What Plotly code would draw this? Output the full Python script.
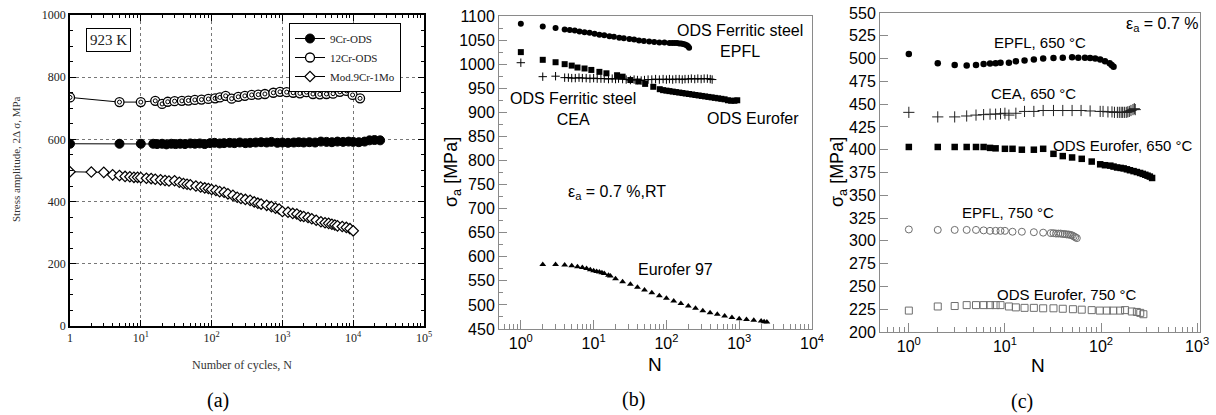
import plotly.graph_objects as go

W, H = 1216, 415

# ---------------- Panel (a) data ----------------
a9cr_N = [1, 5, 10, 15, 17, 20, 23, 27, 31, 36, 42, 50, 58, 68, 80, 95, 110, 130, 150, 180, 210,
          250, 300, 350, 420, 500, 600, 700, 850, 1000, 1200, 1450, 1700, 2000, 2400, 2900, 3500,
          4200, 5000, 6000, 7200, 8600, 10000, 12000, 14500, 17000, 20000, 24000]
a9cr_S = [586, 586, 586, 586, 585, 586, 584, 586, 585, 586, 585, 587, 586, 587, 585, 588, 589, 587,
          588, 589, 588, 590, 588, 589, 590, 591, 590, 592, 589, 590, 589, 590, 591, 590, 591, 590,
          593, 592, 591, 593, 592, 593, 592, 591, 593, 597, 598, 597]

a12cr_N = [1, 5, 10, 16, 20, 24, 30, 38, 47, 58, 72, 90, 112, 131, 158, 192, 238, 295, 368, 456,
           566, 745, 925, 1150, 1420, 1770, 2190, 2700, 3380, 4190, 5200, 6480, 8030, 9800, 12500]
a12cr_S = [735, 720, 720, 724, 714, 721, 723, 724, 725, 727, 728, 730, 732, 735, 740, 731, 737, 740,
           743, 744, 746, 750, 753, 752, 750, 748, 752, 746, 745, 746, 747, 753, 756, 743, 732]

amod_N = [1, 2, 3, 4, 5, 6, 7, 8, 9, 10, 12, 14, 16, 19, 22, 25, 30, 35, 40, 45, 50, 60, 70, 80, 90,
          100, 115, 130, 150, 170, 200, 230, 260, 300, 350, 400, 450, 500, 600, 700, 800, 900, 1000,
          1200, 1400, 1600, 1800, 2000, 2300, 2600, 3000, 3500, 4000, 4500, 5000, 5500, 6000, 7000,
          8000, 9000, 10000]
amod_S = [496, 495, 494, 486, 484, 481, 480, 478, 478, 477, 475, 474, 472, 470, 468, 466, 467, 462,
          458, 456, 454, 450, 447, 444, 442, 439, 436, 432, 430, 425, 420, 414, 410, 407, 404, 399,
          395, 392, 388, 384, 379, 376, 368, 366, 362, 360, 354, 352, 349, 345, 340, 335, 332, 330,
          327, 325, 322, 320, 317, 313, 306]

# ---------------- Panel (b) data ----------------
b_epfl_N = [1, 2, 3, 4, 4.7, 5.5, 6.4, 7.5, 8.8, 10.3, 12, 14, 16.5, 19, 22.5, 26, 31, 36, 42, 49,
            58, 68, 80, 94, 110, 120, 130, 140, 150, 160, 170, 180, 190, 198, 205]
b_epfl_S = [1084, 1078, 1075, 1072, 1071, 1070, 1068, 1066, 1065, 1063, 1061, 1060, 1058, 1057,
            1055, 1054, 1052, 1051, 1049, 1048, 1047, 1046, 1045, 1045, 1044, 1044, 1044, 1044,
            1043, 1043, 1042, 1041, 1039, 1037, 1034]

b_odse_N = [1, 2, 3, 4, 5, 6, 7.5, 9.3, 12, 15, 21, 25, 32, 41, 51, 66, 81, 90, 100, 110, 122, 135,
            150, 166, 184, 204, 226, 250, 277, 307, 340, 377, 418, 463, 513, 568, 630, 700, 775,
            860, 940]
b_odse_S = [1025, 1009, 1004, 1000, 997, 993, 991, 988, 984, 981, 977, 974, 967, 964, 959, 953,
            948, 946, 945, 944, 943, 942, 941, 940, 939, 938, 937, 936, 935, 934, 933, 932, 931,
            930, 929, 928, 927, 925, 924, 924, 925]

b_cea_N = [1, 2, 3, 4, 4.5, 5, 5.6, 6.3, 7, 7.9, 8.9, 10, 11.2, 12.6, 14, 16, 18, 20, 22, 25, 28,
           32, 36, 40, 45, 50, 56, 63, 71, 80, 90, 100, 110, 122, 135, 150, 165, 180, 200, 220,
           245, 270, 300, 330, 365, 400, 425]
b_cea_S = [1003, 974, 975, 972, 972, 971, 971, 972, 971, 971, 970, 971, 970, 970, 970, 969, 970,
           969, 970, 969, 968, 967, 968, 967, 966, 967, 968, 968, 969, 968, 969, 968, 969, 968,
           969, 969, 968, 969, 969, 970, 969, 970, 969, 970, 970, 969, 968]

b_e97_N = [2, 3, 4, 5, 6, 7, 8, 9, 10, 11, 12, 13, 14, 16, 17, 20, 25, 32, 40, 50, 63, 80, 100, 126,
           158, 200, 251, 316, 398, 500, 631, 794, 1000, 1259, 1585, 2000, 2200, 2400]
b_e97_S = [584, 584, 583, 581.5, 579.5, 577.5, 575.5, 573, 571, 569.5, 568.5, 567, 565.5, 561.5,
           560, 554.5, 548, 543, 536.5, 531, 525.5, 519, 514, 508, 503, 498, 493, 488, 484, 480.5,
           477, 474, 471.5, 469.5, 468, 466.5, 465, 464.5]

# ---------------- Panel (c) data ----------------
c_epfl650_N = [1, 2, 3, 4, 5, 6, 7, 8, 9, 11, 13, 16, 20, 25, 32, 40, 50, 58, 68, 77, 87, 98, 110,
               123, 129, 135]
c_epfl650_S = [505, 495, 493, 492.5, 493, 494, 494.5, 495, 495.5, 495.5, 497, 498, 499, 500, 500.5,
               501, 501.5, 501, 501, 500.5, 500, 499, 497, 495, 493, 491]

c_cea650_N = [1, 2, 3, 4, 5, 6, 7, 8, 9, 10, 11, 13, 16, 20, 25, 32, 40, 50, 62, 77, 98, 105, 118,
              130, 138, 148, 155, 162, 168, 175, 183, 190, 197, 205, 215, 222, 227]
c_cea650_S = [441, 436, 436, 437, 438, 438.5, 439, 439, 439.5, 440, 438, 440, 442, 442, 443, 443,
              443, 443, 443, 442.5, 442, 442, 441.5, 441.5, 441, 441, 441, 441, 441, 441, 441,
              441.5, 442, 443, 444, 445, 444]

c_odse650_N = [1, 2, 3, 4, 5, 6, 7, 8, 10, 12, 15, 20, 25, 32, 40, 50, 63, 80, 98, 110, 125, 135,
               147, 160, 172, 186, 200, 218, 236, 255, 272, 289, 305, 322, 340]
c_odse650_S = [403, 403, 403, 403, 403, 403, 402, 401.5, 401, 401, 400, 400, 401, 395.5, 393,
               391.5, 390, 387, 384, 383, 382.5, 381.5, 380.5, 380, 379.5, 378.5, 377.5, 376.5,
               375.5, 374.5, 373.5, 372.5, 371.5, 370.5, 369]

c_epfl750_N = [1, 2, 3, 4, 5, 6, 7, 8, 9, 10, 12, 15, 20, 25, 30, 32, 34, 36, 38, 40, 42, 44, 46,
               48, 50, 52, 54, 56]
c_epfl750_S = [312.5, 312, 312, 312, 312, 311.5, 311, 311, 311, 311, 310, 310, 309.5, 309, 308.5,
               308.5, 308, 308, 308, 307.5, 307.5, 307, 307, 306.5, 306, 305, 304, 303]

c_odse750_N = [1, 2, 3, 4, 5, 6, 7, 8, 9, 11, 13, 16, 20, 25, 32, 40, 51, 63, 80, 97, 115, 134,
               158, 178, 209, 236, 256, 276]
c_odse750_S = [223.5, 228, 228.5, 229.5, 229.5, 229.5, 229.5, 229.5, 229.5, 228, 227, 226.5, 226.5,
               226, 226, 225.5, 225, 224.5, 224, 223.5, 223.5, 223.5, 223.5, 224, 222.5, 222, 221,
               219.5]

# tick labels
a_xticks = [1, 10, 100, 1000, 10000, 100000]
a_xtext = ["1", "10<sup>1</sup>", "10<sup>2</sup>", "10<sup>3</sup>", "10<sup>4</sup>", "10<sup>5</sup>"]
b_xticks = [1, 10, 100, 1000, 10000]
b_xtext = ["10<sup>0</sup>", "10<sup>1</sup>", "10<sup>2</sup>", "10<sup>3</sup>", "10<sup>4</sup>"]
c_xticks = [1, 10, 100, 1000]
c_xtext = ["10<sup>0</sup>", "10<sup>1</sup>", "10<sup>2</sup>", "10<sup>3</sup>"]


def minors(lo, hi):
    out = []
    d = lo
    while d < hi:
        for k in range(2, 10):
            v = k * d
            if v < hi:
                out.append(v)
        d *= 10
    return out


def px(x):
    return x / W


def py(y):
    return 1 - y / H


SERIF = "Liberation Serif"
SANS = "Liberation Sans"

fig = go.Figure()

# ---- panel (a) traces ----
fig.add_trace(go.Scatter(x=a9cr_N, y=a9cr_S, mode="lines+markers", name="9Cr-ODS",
                         line=dict(color="black", width=1),
                         marker=dict(symbol="circle", size=9, color="black",
                                     line=dict(color="black", width=1)),
                         xaxis="x", yaxis="y"))
fig.add_trace(go.Scatter(x=a12cr_N, y=a12cr_S, mode="lines+markers", name="12Cr-ODS",
                         line=dict(color="black", width=1),
                         marker=dict(symbol="circle", size=9, color="white",
                                     line=dict(color="black", width=1.3)),
                         xaxis="x", yaxis="y"))
fig.add_trace(go.Scatter(x=a12cr_N, y=a12cr_S, mode="markers", showlegend=False,
                         marker=dict(symbol="circle-open", size=4, color="black",
                                     line=dict(color="black", width=1)),
                         xaxis="x", yaxis="y"))
fig.add_trace(go.Scatter(x=amod_N, y=amod_S, mode="lines+markers", name="Mod.9Cr-1Mo",
                         line=dict(color="black", width=1),
                         marker=dict(symbol="diamond", size=8, color="white",
                                     line=dict(color="black", width=1.2)),
                         xaxis="x", yaxis="y"))

# ---- panel (b) traces ----
fig.add_trace(go.Scatter(x=b_epfl_N, y=b_epfl_S, mode="markers", showlegend=False,
                         marker=dict(symbol="circle", size=6, color="black"),
                         xaxis="x2", yaxis="y2"))
fig.add_trace(go.Scatter(x=b_odse_N, y=b_odse_S, mode="markers", showlegend=False,
                         marker=dict(symbol="square", size=6, color="black"),
                         xaxis="x2", yaxis="y2"))
fig.add_trace(go.Scatter(x=b_cea_N, y=b_cea_S, mode="markers", showlegend=False,
                         marker=dict(symbol="cross-thin", size=6, color="black",
                                     line=dict(color="black", width=1)),
                         xaxis="x2", yaxis="y2"))
fig.add_trace(go.Scatter(x=b_e97_N, y=b_e97_S, mode="markers", showlegend=False,
                         marker=dict(symbol="triangle-up", size=6, color="black"),
                         xaxis="x2", yaxis="y2"))

# ---- panel (c) traces ----
fig.add_trace(go.Scatter(x=c_epfl650_N, y=c_epfl650_S, mode="markers", showlegend=False,
                         marker=dict(symbol="circle", size=6.5, color="black"),
                         xaxis="x3", yaxis="y3"))
fig.add_trace(go.Scatter(x=c_cea650_N, y=c_cea650_S, mode="markers", showlegend=False,
                         marker=dict(symbol="cross-thin", size=8, color="black",
                                     line=dict(color="#222", width=1)),
                         xaxis="x3", yaxis="y3"))
fig.add_trace(go.Scatter(x=c_odse650_N, y=c_odse650_S, mode="markers", showlegend=False,
                         marker=dict(symbol="square", size=6.5, color="black"),
                         xaxis="x3", yaxis="y3"))
fig.add_trace(go.Scatter(x=c_epfl750_N, y=c_epfl750_S, mode="markers", showlegend=False,
                         marker=dict(symbol="circle-open", size=7, color="#6e6e6e",
                                     line=dict(color="#6e6e6e", width=1)),
                         xaxis="x3", yaxis="y3"))
fig.add_trace(go.Scatter(x=c_odse750_N, y=c_odse750_S, mode="markers", showlegend=False,
                         marker=dict(symbol="square-open", size=7, color="#6e6e6e",
                                     line=dict(color="#6e6e6e", width=1)),
                         xaxis="x3", yaxis="y3"))

serif_tick = dict(family=SERIF, size=12, color="#222")
sans_tick = dict(family=SANS, size=16, color="black")
GRAY = "#8a8a8a"

layout = dict(
    width=W, height=H,
    margin=dict(l=0, r=0, t=0, b=0, autoexpand=False),
    paper_bgcolor="white", plot_bgcolor="white",
    showlegend=True,
    legend=dict(x=px(289), y=py(23), xanchor="left", yanchor="top",
                bordercolor="black", borderwidth=1, bgcolor="white",
                font=dict(family=SERIF, size=11, color="#222"),
                tracegroupgap=0, itemwidth=30),
    xaxis=dict(domain=[px(70), px(424)], anchor="y", type="log", range=[0, 5], automargin=False,
               ticklabeloverflow="allow",
               tickmode="array", tickvals=a_xticks, ticktext=a_xtext, tickfont=serif_tick,
               ticks="inside", ticklen=6, tickcolor="black", linecolor="black", linewidth=1.5,
               mirror="allticks", showgrid=True, gridcolor="#777", griddash="dot", gridwidth=1,
               zeroline=False,
               minor=dict(tickmode="array", tickvals=minors(1, 100000), ticks="inside",
                          ticklen=3, tickcolor="black", showgrid=False)),
    yaxis=dict(domain=[py(326), py(15)], anchor="x", range=[0, 1000], automargin=False,
               ticklabeloverflow="allow",
               tickmode="array", tickvals=[0, 200, 400, 600, 800, 1000], tickfont=serif_tick,
               ticks="inside", ticklen=6, tickcolor="black", linecolor="black", linewidth=1.5,
               mirror="allticks", showgrid=True, gridcolor="#777", griddash="dot", gridwidth=1,
               zeroline=False,
               minor=dict(dtick=50, ticks="inside", ticklen=3, tickcolor="black", showgrid=False)),
    xaxis2=dict(domain=[px(499), px(812)], anchor="y2", type="log", range=[-0.3, 4.0],
                automargin=False, ticklabeloverflow="allow",
                tickmode="array", tickvals=b_xticks, ticktext=b_xtext, tickfont=sans_tick,
                ticks="inside", ticklen=9, tickcolor=GRAY, linecolor=GRAY, linewidth=1,
                mirror=True, showgrid=False, zeroline=False,
                minor=dict(tickmode="array", tickvals=minors(0.1, 10000), ticks="inside",
                           ticklen=5, tickcolor=GRAY, showgrid=False)),
    yaxis2=dict(domain=[py(329), py(16)], anchor="x2", range=[450, 1100], dtick=50,
                automargin=False, ticklabeloverflow="allow",
                tickfont=sans_tick, ticks="inside", ticklen=8, tickcolor=GRAY, linecolor=GRAY,
                linewidth=1, mirror=True, showgrid=False, zeroline=False,
                minor=dict(dtick=25, ticks="inside", ticklen=4, tickcolor=GRAY, showgrid=False)),
    xaxis3=dict(domain=[px(880), px(1200)], anchor="y3", type="log", range=[-0.3, 3.03],
                automargin=False, ticklabeloverflow="allow",
                tickmode="array", tickvals=c_xticks, ticktext=c_xtext, tickfont=sans_tick,
                ticks="inside", ticklen=9, tickcolor=GRAY, linecolor=GRAY, linewidth=1,
                mirror=True, showgrid=False, zeroline=False,
                minor=dict(tickmode="array", tickvals=minors(0.1, 1000), ticks="inside",
                           ticklen=5, tickcolor=GRAY, showgrid=False)),
    yaxis3=dict(domain=[py(332), py(13)], anchor="x3", range=[200, 550], dtick=25,
                automargin=False, ticklabeloverflow="allow",
                tickfont=sans_tick, ticks="inside", ticklen=8, tickcolor=GRAY, linecolor=GRAY,
                linewidth=1, mirror=True, showgrid=False, zeroline=False),
)
fig.update_layout(**layout)

ann = []


def add(text, x, y, family=SANS, size=16, color="black", angle=0, **kw):
    ann.append(dict(text=text, x=px(x), y=py(y), xref="paper", yref="paper",
                    xanchor="center", yanchor="middle", showarrow=False, textangle=angle,
                    font=dict(family=family, size=size, color=color), **kw))


# panel (a)
add("923 K", 108.5, 40, family=SERIF, size=15, color="#222", bordercolor="black",
    borderwidth=1, borderpad=3, bgcolor="white")
add("Stress amplitude, 2\u0394 \u03c3, MPa", 16, 159, family=SERIF, size=11, color="#333", angle=-90)
add("Number of cycles, N", 242, 365, family=SERIF, size=12, color="#333")
add("(a)", 218, 400, family=SERIF, size=20)
# panel (b)
add("ODS Ferritic steel<br>EPFL", 740, 41, size=16)
add("ODS Ferritic steel<br>CEA", 573, 109, size=16)
add("ODS Eurofer", 753, 118, size=16)
add("\u03b5<sub>a</sub> = 0.7 %,RT", 617, 193, size=16)
add("Eurofer 97", 675, 269, size=16)
add("\u03c3<sub>a</sub> [MPa]", 452, 172, size=18, angle=-90)
add("N", 655, 364, size=19)
add("(b)", 633, 399, family=SERIF, size=20)
# panel (c)
add("\u03b5<sub>a</sub> = 0.7 %", 1162, 25, size=16)
add("EPFL, 650 \u00b0C", 1040, 43, size=15)
add("CEA, 650 \u00b0C", 1033, 93, size=15)
add("ODS Eurofer, 650 \u00b0C", 1123, 145, size=15)
add("EPFL, 750 \u00b0C", 1008, 213, size=15)
add("ODS Eurofer, 750 \u00b0C", 1067, 294, size=15)
add("\u03c3<sub>a</sub> [MPa]", 838, 172, size=18, angle=-90)
add("N", 1038, 365, size=19)
add("(c)", 1022, 401, family=SERIF, size=20)

fig.update_layout(annotations=ann)

# remove the browser's default 8px body margin so the figure fills the window exactly
fig.write_html("out.html", config={"displayModeBar": False},
               post_script="document.body.style.margin='0px';")
